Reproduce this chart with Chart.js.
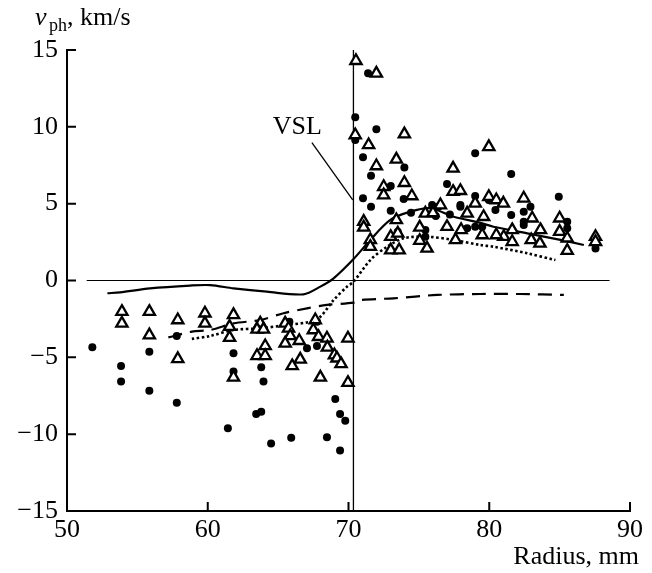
<!DOCTYPE html>
<html>
<head>
<meta charset="utf-8">
<script src="https://cdn.jsdelivr.net/npm/chart.js@4/dist/chart.umd.min.js"></script>
<style>
html,body{margin:0;padding:0;background:#fff;}
canvas{display:block;}
</style>
</head>
<body>
<canvas id="c" width="652" height="573"></canvas>
<script>
// ---- data ----
const xTicks = [50, 60, 70, 80, 90];
const yTicks = [-15, -10, -5, 0, 5, 10, 15];
const yTickLabels = ['\u221215', '\u221210', '\u22125', '0', '5', '10', '15'];

const triangles = [
  [53.9,-2.03],[53.9,-2.79],[55.85,-2.03],[55.85,-3.55],[57.87,-2.57],[57.87,-5.1],
  [59.8,-2.13],[59.8,-2.79],[61.83,-2.24],[61.55,-3.0],[61.55,-3.72],[61.83,-6.3],
  [63.73,-2.79],[63.5,-3.18],[63.96,-3.18],[64.08,-4.26],[63.5,-4.9],[64.08,-4.9],
  [65.5,-2.79],[65.74,-3.11],[65.86,-3.61],[65.5,-4.09],[66.5,-3.92],[66.57,-5.13],[66.0,-5.56],
  [67.64,-2.57],[67.5,-3.22],[67.87,-3.66],[68.47,-3.76],[68.5,-4.35],[69.0,-4.85],[69.18,-5.06],
  [69.47,-5.43],[68.0,-6.3],[69.96,-3.76],[69.96,-6.65],
  [70.53,14.3],[71.98,13.48],[70.48,9.47],[71.43,8.82],[73.97,9.53],[73.4,7.88],[71.98,7.45],
  [73.97,6.36],[72.5,6.1],[72.5,5.56],[74.5,5.5],[73.4,3.94],[71.08,3.83],[71.08,3.46],
  [71.55,2.64],[71.55,2.2],[73.0,2.85],[73.5,3.07],[73.0,1.98],[73.6,1.98],[75.06,3.46],
  [75.06,2.59],[75.58,2.09],[75.46,4.37],[76.53,4.91],[77.0,3.5],[77.43,7.3],[77.43,5.78],
  [77.95,5.84],[79.0,5.02],[77.6,2.64],[79.97,8.7],[79.97,5.45],[80.5,5.24],[81.0,5.02],
  [82.45,5.35],[79.6,4.15],[78.43,4.37],[83.05,4.05],[85.0,4.05],[85.0,3.18],[85.54,1.94],
  [85.54,2.75],[83.64,3.29],[82.98,2.64],[83.6,2.42],[87.55,2.85],[87.55,2.52],[81.63,3.29],
  [81.03,2.85],[81.63,2.52],[80.5,2.96],[79.5,2.96],[76.0,4.4],[78.0,3.3]
];

const dots = [
  [51.8,-4.35],[53.84,-5.56],[53.84,-6.58],[55.85,-4.63],[55.85,-7.17],[57.8,-3.61],[57.8,-7.95],
  [61.83,-4.74],[61.83,-5.93],[61.43,-9.62],[63.8,-5.65],[63.96,-6.58],[63.44,-8.69],[63.8,-8.54],
  [64.5,-10.6],[65.93,-10.23],[65.8,-2.68],[63.8,-3.1],[67.05,-4.41],[67.76,-4.26],[67.76,-2.68],
  [69.06,-7.71],[69.4,-8.69],[69.77,-9.12],[68.47,-10.2],[69.4,-11.07],
  [71.39,13.48],[70.48,10.62],[70.48,9.14],[71.98,9.84],[71.03,8.02],[73.97,7.36],[71.6,6.82],
  [73.0,6.15],[73.92,5.3],[71.03,5.35],[71.6,4.8],[73.0,4.54],[74.44,4.41],[73.5,3.18],
  [75.46,3.29],[75.46,2.85],[75.94,4.91],[76.4,4.8],[77.0,6.28],[79.0,8.28],[79.0,5.5],
  [77.95,4.91],[81.56,6.93],[79.97,5.24],[82.93,4.8],[80.44,4.59],[82.45,4.48],[81.56,4.26],
  [82.45,3.83],[82.45,3.61],[79.5,3.5],[78.43,3.4],[79.0,3.5],[84.94,5.45],[85.54,3.83],
  [85.54,3.4],[87.55,2.09],[77.95,4.8],[76.2,4.2],[77.2,4.3]
];

const solidLine = [
  [52.87,-0.83],[53.77,-0.77],[55.9,-0.51],[58.75,-0.33],[60.17,-0.3],[61.83,-0.51],[64.2,-0.73],
  [66.8,-0.9],[68.0,-0.4],[68.94,0.14],[70.36,1.4],[71.55,2.64],[72.97,3.94],[74.4,4.48],
  [75.8,4.7],[77.47,4.15],[79.37,3.75],[80.3,3.5],[82.7,3.07],[85.06,2.64],[86.72,2.31]
];

const dashedLine = [
  [57.2,-3.7],[58.87,-3.33],[60.17,-3.22],[61.83,-2.79],[63.73,-2.57],[65.38,-2.13],[67.05,-1.81],
  [68.47,-1.59],[70.36,-1.44],[70.84,-1.27],[73.2,-1.16],[76.3,-0.94],[79.37,-0.88],[82.2,-0.88],[85.3,-0.94]
];

const dottedLine = [
  [58.87,-3.8],[60.17,-3.61],[61.83,-3.22],[63.73,-3.11],[65.6,-2.9],[67.28,-2.68],[68.0,-2.36],
  [68.94,-1.27],[69.9,-0.4],[70.36,-0.08],[71.55,1.33],[72.74,2.2],[73.92,2.75],[75.58,2.85],
  [77.47,2.64],[79.37,2.31],[80.3,2.2],[82.7,1.77],[84.7,1.33]
];

const zeroLine = [[51.4,0],[88.55,0]];
const verticalLine = [[70.35,-15],[70.35,15]];
const vslPointer = [[67.4,8.97],[70.3,5.24]];
const vslLabel = {text: 'VSL', x: 66.36, y: 10.0};

// ---- chart ----
const pts = a => a.map(p => ({x: p[0], y: p[1]}));
const FONT = '"Liberation Serif", "DejaVu Serif", serif';

const axesPlugin = {
  id: 'axesPlugin',
  afterDatasetsDraw(chart) {
    const ctx = chart.ctx;
    const xs = chart.scales.x, ys = chart.scales.y;
    const L = xs.getPixelForValue(50), R = xs.getPixelForValue(90);
    const T = ys.getPixelForValue(15), B = ys.getPixelForValue(-15);
    ctx.save();
    ctx.strokeStyle = '#000';
    ctx.lineWidth = 2;
    ctx.lineCap = 'square';
    ctx.beginPath();
    ctx.moveTo(L, T); ctx.lineTo(L, B); ctx.lineTo(R, B);
    ctx.stroke();
    ctx.lineCap = 'butt';
    ctx.beginPath();
    xTicks.forEach(v => { const p = xs.getPixelForValue(v); ctx.moveTo(p, B); ctx.lineTo(p, B - 9); });
    yTicks.forEach(v => { const p = ys.getPixelForValue(v); ctx.moveTo(L, p); ctx.lineTo(L + 9, p); });
    ctx.stroke();
    // VSL label
    ctx.fillStyle = '#000';
    ctx.font = '26px ' + FONT;
    ctx.textAlign = 'center';
    ctx.textBaseline = 'middle';
    ctx.fillText(vslLabel.text, xs.getPixelForValue(vslLabel.x), ys.getPixelForValue(vslLabel.y));
    // axis titles
    ctx.textBaseline = 'alphabetic';
    ctx.textAlign = 'right';
    ctx.fillText('Radius, mm', 639, 564);
    ctx.textAlign = 'left';
    ctx.font = 'italic 26px ' + FONT;
    ctx.fillText('v', 35, 25);
    ctx.font = '18px ' + FONT;
    ctx.fillText('ph', 49, 31);
    ctx.font = '26px ' + FONT;
    ctx.fillText(', km/s', 67, 25);
    ctx.restore();
  }
};

new Chart(document.getElementById('c'), {
  type: 'scatter',
  data: {
    datasets: [
      {data: pts(triangles), pointStyle: 'triangle', pointRadius: 6.5, pointBorderWidth: 2.3,
       borderColor: '#000', backgroundColor: '#fff', pointBackgroundColor: '#fff', order: 1},
      {data: pts(dots), pointStyle: 'circle', pointRadius: 4, pointBorderWidth: 0,
       backgroundColor: '#000', borderColor: '#000', order: 2},
      {data: pts(solidLine), showLine: true, pointRadius: 0, borderColor: '#000', borderWidth: 2.2, tension: 0.3, order: 3},
      {data: pts(dashedLine), showLine: true, pointRadius: 0, borderColor: '#000', borderWidth: 2.2, borderDash: [14, 8], tension: 0.3, order: 4},
      {data: pts(dottedLine), showLine: true, pointRadius: 0, borderColor: '#000', borderWidth: 2.6, borderDash: [2.5, 2.5], tension: 0.3, order: 5},
      {data: pts(zeroLine), showLine: true, pointRadius: 0, borderColor: '#000', borderWidth: 1.2, order: 6},
      {data: pts(verticalLine), showLine: true, pointRadius: 0, borderColor: '#000', borderWidth: 1.3, order: 7},
      {data: pts(vslPointer), showLine: true, pointRadius: 0, borderColor: '#000', borderWidth: 1.3, order: 8}
    ]
  },
  options: {
    responsive: false,
    animation: false,
    events: [],
    layout: {padding: {top: 50, right: 22, left: 0, bottom: 0}},
    plugins: {legend: {display: false}, tooltip: {enabled: false}},
    scales: {
      x: {
        type: 'linear', min: 50, max: 90,
        grid: {display: false, drawTicks: false},
        border: {display: false},
        afterBuildTicks: s => { s.ticks = xTicks.map(v => ({value: v})); },
        afterFit: s => { s.height = 62; },
        ticks: {autoSkip: false, maxRotation: 0, color: '#000', padding: 4,
                font: {family: FONT, size: 26}, callback: v => String(v)}
      },
      y: {
        type: 'linear', min: -15, max: 15,
        grid: {display: false, drawTicks: false},
        border: {display: false},
        afterBuildTicks: s => { s.ticks = yTicks.map(v => ({value: v})); },
        afterFit: s => { s.width = 67; },
        ticks: {autoSkip: false, color: '#000', padding: 9,
                font: {family: FONT, size: 26},
                callback: v => yTickLabels[yTicks.indexOf(v)]}
      }
    }
  },
  plugins: [axesPlugin]
});
</script>
</body>
</html>
